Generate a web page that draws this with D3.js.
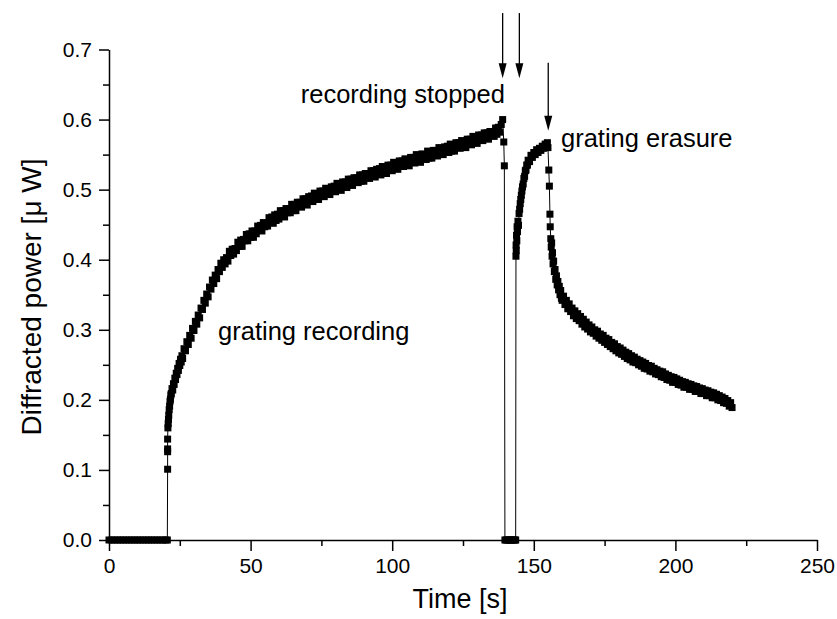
<!DOCTYPE html>
<html>
<head>
<meta charset="utf-8">
<script src="https://cdn.jsdelivr.net/npm/d3@7"></script>
<style>
  body { margin: 0; background: #fff; }
  svg { font-family: "Liberation Sans", Arial, sans-serif; }
  .axis path, .axis line { stroke: #000; stroke-width: 1.5; }
  .axis text { font-size: 21px; fill: #000; }
</style>
</head>
<body>
<div id="chart"></div>
<script>
// baseline before the writing beams are switched on
const baseT = [0, 1, 2, 3, 4, 5, 6, 7, 8, 9, 10, 11, 12, 13, 14, 15, 16, 17, 18, 19, 20, 20.6]
const baseP = [0, 0, 0, 0, 0, 0, 0, 0, 0, 0, 0, 0, 0, 0, 0, 0, 0, 0, 0, 0, 0, 0]

// grating recording
const recT = [20.7, 20.7, 20.7, 20.7, 20.8, 20.9, 21.0, 21.1, 21.25, 21.4, 21.55, 21.7, 21.85,
  22.0, 22.25, 22.5, 22.75, 23.0, 23.25, 23.5, 23.75, 24.0, 24.25, 24.5, 24.75, 25.0, 25.25, 25.5, 25.75,
  26.0, 26.5, 27.0, 27.5, 28.0, 28.5, 29.0, 29.5, 30.0, 30.5, 31.0, 31.5, 32.0, 32.5, 33.0, 33.5,
  34.0, 34.5, 35.0, 35.5, 36.0, 36.5, 37.0, 37.5, 38.0, 38.5, 39.0, 39.5, 40.0, 40.5,
  41, 41.5, 42, 42.5, 43, 43.5, 44, 44.5, 45, 45.5, 46, 46.5, 47, 47.5, 48, 48.5, 49, 49.5, 50, 50.5,
  51, 51.5, 52, 52.5, 53, 53.5, 54, 54.5, 55, 55.5, 56, 56.5, 57, 57.5, 58, 58.5, 59, 59.5, 60, 60.5,
  61, 61.5, 62, 62.5, 63, 63.5, 64, 64.5, 65, 65.5, 66, 66.5, 67, 67.5, 68, 68.5, 69, 69.5, 70, 70.5,
  71, 71.5, 72, 72.5, 73, 73.5, 74, 74.5, 75, 75.5, 76, 76.5, 77, 77.5, 78, 78.5, 79, 79.5, 80, 80.5,
  81, 81.5, 82, 82.5, 83, 83.5, 84, 84.5, 85, 85.5, 86, 86.5, 87, 87.5, 88, 88.5, 89, 89.5, 90, 90.5,
  91, 91.5, 92, 92.5, 93, 93.5, 94, 94.5, 95, 95.5, 96, 96.5, 97, 97.5, 98, 98.5, 99, 99.5, 100, 100.5,
  101, 101.5, 102, 102.5, 103, 103.5, 104, 104.5, 105, 105.5, 106, 106.5, 107, 107.5, 108, 108.5, 109, 109.5, 110, 110.5,
  111, 111.5, 112, 112.5, 113, 113.5, 114, 114.5, 115, 115.5, 116, 116.5, 117, 117.5, 118, 118.5, 119, 119.5, 120, 120.5,
  121, 121.5, 122, 122.5, 123, 123.5, 124, 124.5, 125, 125.5, 126, 126.5, 127, 127.5, 128, 128.5, 129, 129.5, 130, 130.5,
  131, 131.5, 132, 132.5, 133, 133.5, 134, 134.5, 135, 135.5, 136, 136.5, 137, 137.5, 138, 138.5, 139, 139.4, 139.6]
const recP = [0.101, 0.126, 0.130, 0.144, 0.160, 0.166, 0.172, 0.178, 0.186, 0.191, 0.198, 0.201, 0.207,
  0.209, 0.216, 0.214, 0.223, 0.222, 0.231, 0.229, 0.238, 0.236, 0.245, 0.242, 0.252, 0.249, 0.258, 0.254, 0.263,
  0.259, 0.273, 0.270, 0.283, 0.279, 0.292, 0.288, 0.302, 0.299, 0.312, 0.308, 0.321, 0.317, 0.331, 0.329, 0.342,
  0.338, 0.351, 0.347, 0.361, 0.358, 0.371, 0.366, 0.378, 0.373, 0.386, 0.383, 0.395, 0.389, 0.400,
  0.394, 0.403, 0.398, 0.412, 0.406, 0.415, 0.408, 0.416, 0.413, 0.425, 0.419, 0.428, 0.419, 0.429, 0.427, 0.436, 0.427, 0.437, 0.432, 0.441,
  0.432, 0.441, 0.437, 0.448, 0.442, 0.449, 0.441, 0.453, 0.447, 0.452, 0.448, 0.460, 0.453, 0.461, 0.452, 0.464, 0.456, 0.465, 0.458, 0.470,
  0.464, 0.470, 0.461, 0.473, 0.467, 0.473, 0.467, 0.479, 0.470, 0.479, 0.470, 0.482, 0.476, 0.482, 0.475, 0.487, 0.479, 0.487, 0.478, 0.490,
  0.485, 0.491, 0.483, 0.495, 0.486, 0.494, 0.486, 0.498, 0.492, 0.498, 0.490, 0.502, 0.494, 0.501, 0.493, 0.504, 0.498, 0.505, 0.497, 0.509,
  0.500, 0.507, 0.499, 0.511, 0.506, 0.511, 0.503, 0.515, 0.507, 0.515, 0.506, 0.517, 0.511, 0.517, 0.510, 0.521, 0.512, 0.521, 0.512, 0.523,
  0.517, 0.523, 0.516, 0.527, 0.519, 0.527, 0.518, 0.529, 0.524, 0.530, 0.521, 0.533, 0.524, 0.531, 0.523, 0.535, 0.529, 0.535, 0.527, 0.539,
  0.530, 0.537, 0.529, 0.541, 0.534, 0.541, 0.533, 0.544, 0.535, 0.543, 0.534, 0.546, 0.541, 0.546, 0.538, 0.550, 0.541, 0.549, 0.539, 0.551,
  0.545, 0.550, 0.543, 0.555, 0.545, 0.554, 0.545, 0.556, 0.550, 0.556, 0.548, 0.560, 0.551, 0.559, 0.550, 0.561, 0.556, 0.562, 0.553, 0.565,
  0.555, 0.563, 0.555, 0.567, 0.560, 0.567, 0.559, 0.570, 0.562, 0.569, 0.560, 0.572, 0.566, 0.572, 0.564, 0.576, 0.567, 0.574, 0.566, 0.578,
  0.572, 0.578, 0.570, 0.581, 0.573, 0.581, 0.572, 0.583, 0.577, 0.583, 0.576, 0.588, 0.579, 0.589, 0.582, 0.593, 0.600, 0.568, 0.534]

// recording beams blocked
const stopT = [139.8, 140.3, 140.8, 141.3, 141.8, 142.3, 142.8, 143.3, 143.6]
const stopP = [0, 0, 0, 0, 0, 0, 0, 0, 0]

// readout recovers before erasure
const recovT = [143.7, 143.75, 143.8, 143.9, 144.0, 144.1, 144.25, 144.4, 144.6, 144.8, 145.0, 145.2, 145.4, 145.6, 145.8,
  146.0, 146.25, 146.5, 146.75, 147.0, 147.25, 147.5, 147.75, 148.0, 148.5, 149.0, 149.5, 150.0, 150.5,
  151.0, 151.5, 152.0, 152.5, 153.0, 153.5, 154.0, 154.5, 154.8, 155.0]
const recovP = [0.405, 0.421, 0.413, 0.435, 0.427, 0.447, 0.440, 0.455, 0.449, 0.466, 0.472, 0.480, 0.486, 0.492, 0.498,
  0.504, 0.508, 0.516, 0.519, 0.527, 0.528, 0.535, 0.535, 0.542, 0.540, 0.549, 0.546, 0.553, 0.550,
  0.557, 0.553, 0.559, 0.556, 0.562, 0.559, 0.565, 0.561, 0.567, 0.560]

// grating erasure
const eraseT = [155.3, 155.5, 155.7, 155.8, 156.0, 156.15, 156.3, 156.45, 156.6, 156.8, 157.0, 157.25, 157.5, 157.75,
  158.0, 158.25, 158.5, 158.75, 159.0, 159.25, 159.5, 159.75,
  160, 160.5, 161, 161.5, 162, 162.5, 163, 163.5, 164, 164.5, 165, 165.5, 166, 166.5, 167, 167.5, 168, 168.5, 169, 169.5,
  170, 170.5, 171, 171.5, 172, 172.5, 173, 173.5, 174, 174.5, 175, 175.5, 176, 176.5, 177, 177.5, 178, 178.5, 179, 179.5,
  180, 180.5, 181, 181.5, 182, 182.5, 183, 183.5, 184, 184.5, 185, 185.5, 186, 186.5, 187, 187.5, 188, 188.5, 189, 189.5,
  190, 190.5, 191, 191.5, 192, 192.5, 193, 193.5, 194, 194.5, 195, 195.5, 196, 196.5, 197, 197.5, 198, 198.5, 199, 199.5,
  200, 200.5, 201, 201.5, 202, 202.5, 203, 203.5, 204, 204.5, 205, 205.5, 206, 206.5, 207, 207.5, 208, 208.5, 209, 209.5,
  210, 210.5, 211, 211.5, 212, 212.5, 213, 213.5, 214, 214.5, 215, 215.5, 216, 216.5, 217, 217.5, 218, 218.5, 219, 219.5, 220]
const eraseP = [0.528, 0.505, 0.465, 0.447, 0.430, 0.418, 0.424, 0.405, 0.410, 0.394, 0.398, 0.383, 0.386, 0.372,
  0.377, 0.364, 0.369, 0.357, 0.362, 0.350, 0.356, 0.345,
  0.342, 0.348, 0.336, 0.342, 0.330, 0.337, 0.326, 0.331, 0.320, 0.327, 0.316, 0.323, 0.313, 0.319, 0.308, 0.315, 0.304, 0.311, 0.301, 0.307,
  0.297, 0.304, 0.295, 0.300, 0.291, 0.298, 0.288, 0.294, 0.285, 0.292, 0.282, 0.288, 0.279, 0.286, 0.276, 0.282, 0.273, 0.280, 0.270, 0.276,
  0.267, 0.274, 0.265, 0.271, 0.262, 0.268, 0.259, 0.266, 0.257, 0.263, 0.254, 0.261, 0.253, 0.258, 0.250, 0.256, 0.248, 0.254, 0.245, 0.252,
  0.244, 0.249, 0.241, 0.248, 0.240, 0.245, 0.237, 0.243, 0.236, 0.241, 0.233, 0.240, 0.232, 0.237, 0.229, 0.235, 0.228, 0.233, 0.225, 0.232,
  0.225, 0.230, 0.222, 0.228, 0.221, 0.226, 0.218, 0.225, 0.218, 0.223, 0.215, 0.222, 0.215, 0.220, 0.212, 0.219, 0.212, 0.217, 0.209, 0.216,
  0.209, 0.214, 0.206, 0.213, 0.206, 0.211, 0.203, 0.210, 0.203, 0.208, 0.200, 0.206, 0.199, 0.204, 0.196, 0.202, 0.195, 0.199, 0.191, 0.196, 0.189]

const xTicks = [0, 50, 100, 150, 200, 250]
const xMinor = [25, 75, 125, 175, 225]
const yTicks = [0.0, 0.1, 0.2, 0.3, 0.4, 0.5, 0.6, 0.7]
const yMinor = [0.05, 0.15, 0.25, 0.35, 0.45, 0.55, 0.65]

// arrows: time, top and tip of each arrow
const arrowT = [139.0, 144.9, 155.1]
const arrowTop = [0.752, 0.752, 0.681]
const arrowTip = [0.659, 0.659, 0.584]

const labels = [
  { text: 'recording stopped', t: 139.8, p: 0.624, anchor: 'end' },
  { text: 'grating erasure', t: 159.6, p: 0.561, anchor: 'start' },
  { text: 'grating recording', t: 38.5, p: 0.2855, anchor: 'start' }
]

const width = 837, height = 619

const x = d3.scaleLinear().domain([0, 250]).range([109, 817])
const y = d3.scaleLinear().domain([0, 0.7]).range([540, 49.5])

const svg = d3.select('#chart').append('svg')
  .attr('width', width)
  .attr('height', height)

// join the segments in time order
const zip = (ts, ps) => ts.map((t, i) => ({ t: t, p: ps[i] }))
const data = [].concat(zip(baseT, baseP), zip(recT, recP), zip(stopT, stopP), zip(recovT, recovP), zip(eraseT, eraseP))

// axes
svg.append('g')
  .attr('class', 'axis')
  .attr('transform', 'translate(0,540)')
  .call(d3.axisBottom(x).tickValues(xTicks).tickFormat(d3.format('d')).tickSize(11).tickSizeOuter(0).tickPadding(7))

svg.append('g')
  .attr('class', 'axis')
  .attr('transform', 'translate(0,540)')
  .call(d3.axisBottom(x).tickValues(xMinor).tickFormat('').tickSize(6).tickSizeOuter(0))
  .select('.domain').remove()

svg.append('g')
  .attr('class', 'axis')
  .attr('transform', 'translate(109,0)')
  .call(d3.axisLeft(y).tickValues(yTicks).tickFormat(d3.format('.1f')).tickSize(10).tickSizeOuter(0).tickPadding(7))

svg.append('g')
  .attr('class', 'axis')
  .attr('transform', 'translate(109,0)')
  .call(d3.axisLeft(y).tickValues(yMinor).tickFormat('').tickSize(6).tickSizeOuter(0))
  .select('.domain').remove()

// connecting line
svg.append('path')
  .datum(data)
  .attr('fill', 'none')
  .attr('stroke', '#000')
  .attr('stroke-width', 1)
  .attr('d', d3.line().x(d => x(d.t)).y(d => y(d.p)))

// square markers
svg.selectAll('rect.pt')
  .data(data)
  .enter()
  .append('rect')
  .attr('class', 'pt')
  .attr('x', d => x(d.t) - 3.5)
  .attr('y', d => y(d.p) - 3.5)
  .attr('width', 7)
  .attr('height', 7)
  .attr('fill', '#000')

// arrows
arrowT.forEach((t, i) => {
  svg.append('line')
    .attr('x1', x(t)).attr('x2', x(t))
    .attr('y1', y(arrowTop[i]))
    .attr('y2', y(arrowTip[i]) - 14)
    .attr('stroke', '#000')
    .attr('stroke-width', 1.3)
  svg.append('path')
    .attr('d', `M${x(t) - 4},${y(arrowTip[i]) - 15} L${x(t)},${y(arrowTip[i])} L${x(t) + 4},${y(arrowTip[i]) - 15} Z`)
    .attr('fill', '#000')
})

// annotations
svg.selectAll('text.note')
  .data(labels)
  .enter()
  .append('text')
  .attr('class', 'note')
  .attr('x', d => x(d.t))
  .attr('y', d => y(d.p))
  .attr('text-anchor', d => d.anchor)
  .attr('font-size', 25.5)
  .text(d => d.text)

// axis titles
svg.append('text')
  .attr('x', 460)
  .attr('y', 608)
  .attr('text-anchor', 'middle')
  .attr('font-size', 27)
  .text('Time [s]')

svg.append('text')
  .attr('transform', 'translate(41,297) rotate(-90)')
  .attr('text-anchor', 'middle')
  .attr('font-size', 28)
  .text('Diffracted power [μ W]')
</script>
</body>
</html>
